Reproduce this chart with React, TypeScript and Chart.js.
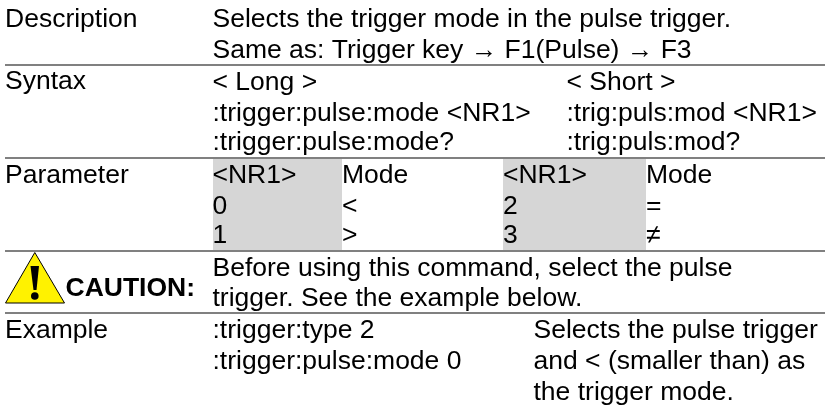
import React, { useEffect, useRef } from "react";
import { Chart, registerables } from "chart.js";

Chart.register(...registerables);

// Content
const rowHeaders = ["Description", "Syntax", "Parameter", "Example"];
const descriptionLines = [
  "Selects the trigger mode in the pulse trigger.",
  "Same as: Trigger key \u2192 F1(Pulse) \u2192 F3",
];
const syntaxLong = ["< Long >", ":trigger:pulse:mode <NR1>", ":trigger:pulse:mode?"];
const syntaxShort = ["< Short >", ":trig:puls:mod <NR1>", ":trig:puls:mod?"];
const nr1Left = ["<NR1>", "0", "1"];
const modeLeft = ["Mode", "<", ">"];
const nr1Right = ["<NR1>", "2", "3"];
const modeRight = ["Mode", "=", "\u2260"];
const cautionLabel = "CAUTION:";
const cautionLines = [
  "Before using this command, select the pulse",
  "trigger. See the example below.",
];
const exampleCommands = [":trigger:type 2", ":trigger:pulse:mode 0"];
const exampleNotes = ["Selects the pulse trigger", "and < (smaller than) as", "the trigger mode."];

// Layout in the page's coordinate scale
const W = 825;
const H = 406;
const FONT = '"Liberation Sans", Arial, sans-serif';
const SIZE = 26.5;
const xHead = 5;
const xMain = 212.5;
const xMode = 342;
const xNr1R = 503;
const xShort = 566.5;
const xModeR = 646;
const xNotes = 533.5;
const ruleYs = [65, 158, 251, 313];
const paramBase = [183, 214, 243];
const syntaxBase = [90, 121, 150];

type Run = { lines: string[]; x: number; ys: number[]; bold?: boolean };
const runs: Run[] = [
  { lines: [rowHeaders[0]], x: xHead, ys: [27] },
  { lines: descriptionLines, x: xMain, ys: [27, 58] },
  { lines: [rowHeaders[1]], x: xHead, ys: [89] },
  { lines: syntaxLong, x: xMain, ys: syntaxBase },
  { lines: syntaxShort, x: xShort, ys: syntaxBase },
  { lines: [rowHeaders[2]], x: xHead, ys: [183] },
  { lines: nr1Left, x: xMain, ys: paramBase },
  { lines: modeLeft, x: xMode, ys: paramBase },
  { lines: nr1Right, x: xNr1R, ys: paramBase },
  { lines: modeRight, x: xModeR, ys: paramBase },
  { lines: [cautionLabel], x: 65.5, ys: [296], bold: true },
  { lines: cautionLines, x: xMain, ys: [276, 306] },
  { lines: [rowHeaders[3]], x: xHead, ys: [338] },
  { lines: exampleCommands, x: xMain, ys: [338, 369] },
  { lines: exampleNotes, x: xNotes, ys: [338, 369, 400] },
];

const textPlugin = {
  id: "tableText",
  afterDatasetsDraw(chart: any) {
    const { ctx, scales } = chart;
    ctx.save();
    ctx.fillStyle = "#000000";
    ctx.textBaseline = "alphabetic";
    ctx.textAlign = "left";
    for (const run of runs) {
      ctx.font = `${run.bold ? "bold " : ""}${SIZE}px ${FONT}`;
      run.lines.forEach((line, i) => {
        ctx.fillText(line, scales.x.getPixelForValue(run.x), scales.y.getPixelForValue(run.ys[i]));
      });
    }
    ctx.restore();
  },
};

const seg = (x0: number, x1: number, y: number) => [
  { x: x0, y },
  { x: x1, y },
];

export default function App() {
  const ref = useRef<HTMLCanvasElement | null>(null);
  useEffect(() => {
    document.body.style.margin = "0";
    const chart = new Chart(ref.current!, {
      type: "line",
      data: {
        datasets: [
          {
            label: "exclamation dot",
            data: [{ x: 34.8, y: 296 }],
            showLine: false,
            pointRadius: 3.8,
            pointBackgroundColor: "#000000",
            pointBorderWidth: 0,
          },
          {
            label: "exclamation",
            data: [
              { x: 30.5, y: 266 },
              { x: 39, y: 266 },
              { x: 36.5, y: 290 },
              { x: 33.5, y: 290 },
              { x: 30.5, y: 266 },
            ],
            borderColor: "#000000",
            borderWidth: 0,
            pointRadius: 0,
            backgroundColor: "#000000",
            fill: "shape",
          },
          {
            label: "warning triangle",
            data: [
              { x: 5.5, y: 303 },
              { x: 34.8, y: 252.5 },
              { x: 64.5, y: 303 },
              { x: 5.5, y: 303 },
            ],
            borderColor: "#000000",
            borderWidth: 1,
            pointRadius: 0,
            backgroundColor: "#FFF200",
            fill: "shape",
          },
          ...ruleYs.map((y) => ({
            label: "rule",
            data: seg(5, W, y),
            borderColor: "#808080",
            borderWidth: 2,
            pointRadius: 0,
          })),
          {
            label: "shade left",
            data: seg(xMain + 0.5, xMode, 159),
            borderWidth: 0,
            pointRadius: 0,
            backgroundColor: "#D6D6D6",
            fill: { value: 250 },
          },
          {
            label: "shade right",
            data: seg(xNr1R, xModeR, 159),
            borderWidth: 0,
            pointRadius: 0,
            backgroundColor: "#D6D6D6",
            fill: { value: 250 },
          },
        ],
      },
      options: {
        animation: false,
        responsive: false,
        parsing: false,
        layout: { padding: 0, autoPadding: false },
        plugins: { legend: { display: false }, tooltip: { enabled: false } },
        scales: {
          x: { type: "linear", min: 0, max: W, display: false },
          y: { type: "linear", min: 0, max: H, reverse: true, display: false },
        },
      },
      plugins: [textPlugin],
    } as any);
    return () => chart.destroy();
  }, []);
  return <canvas ref={ref} width={W} height={H} style={{ display: "block", background: "#fff" }} />;
}
